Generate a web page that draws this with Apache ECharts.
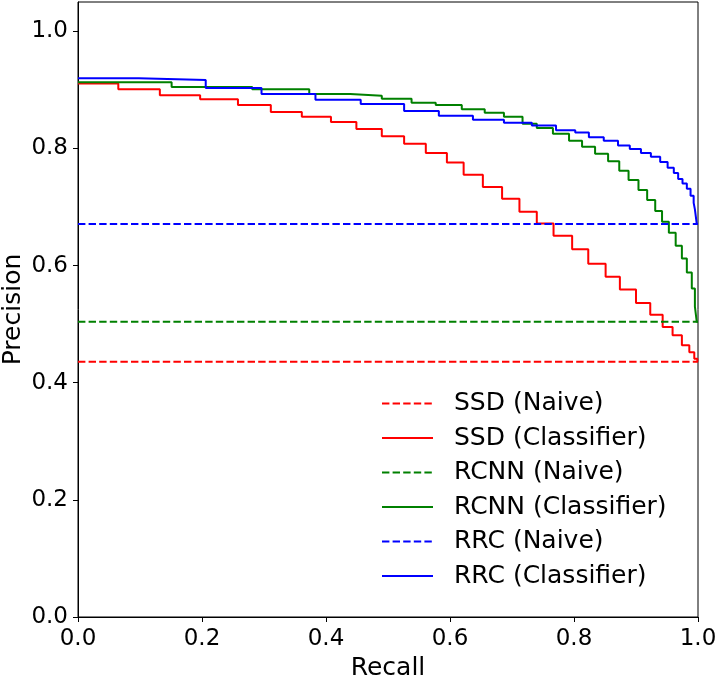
<!DOCTYPE html>
<html>
<head>
<meta charset="utf-8">
<script src="https://cdn.jsdelivr.net/npm/echarts@6/dist/echarts.min.js"></script>
<style>
  html, body { margin: 0; padding: 0; background: #fff; }
  #chart { width: 717px; height: 675px; }
</style>
</head>
<body>
<div id="chart"></div>
<script>
// step curves: recall where each step begins, precision held until the next one
const ssdRecall = [0, 0.065, 0.132, 0.197, 0.258, 0.311, 0.361, 0.408, 0.449, 0.490, 0.526, 0.561, 0.595, 0.622, 0.653, 0.684, 0.712, 0.740, 0.767, 0.797, 0.823, 0.851, 0.874, 0.900, 0.923, 0.943, 0.959, 0.974, 0.986, 0.994, 0.999, 1.0]
const ssdPrecision = [0.911, 0.901, 0.891, 0.884, 0.874, 0.862, 0.854, 0.845, 0.833, 0.821, 0.808, 0.792, 0.776, 0.755, 0.734, 0.714, 0.692, 0.672, 0.651, 0.628, 0.603, 0.581, 0.559, 0.536, 0.516, 0.495, 0.481, 0.464, 0.452, 0.441, 0.436, 0.436]

const rcnnRecall = [0, 0.151, 0.281, 0.373, 0.439, 0.490, 0.538, 0.577, 0.619, 0.656, 0.687, 0.717, 0.740, 0.766, 0.792, 0.813, 0.834, 0.855, 0.873, 0.888, 0.904, 0.918, 0.931, 0.942, 0.953, 0.964, 0.974, 0.982, 0.990, 0.995, 0.998, 1.0]
const rcnnPrecision = [0.913, 0.905, 0.901, 0.893, 0.890, 0.885, 0.878, 0.874, 0.867, 0.861, 0.854, 0.842, 0.835, 0.825, 0.813, 0.803, 0.791, 0.778, 0.762, 0.746, 0.729, 0.712, 0.693, 0.675, 0.656, 0.634, 0.612, 0.588, 0.561, 0.530, 0.504, 0.504]

const rrcRecall = [0, 0.098, 0.206, 0.296, 0.383, 0.456, 0.526, 0.582, 0.637, 0.687, 0.732, 0.771, 0.802, 0.824, 0.848, 0.871, 0.890, 0.908, 0.924, 0.939, 0.951, 0.961, 0.968, 0.975, 0.982, 0.988, 0.993, 0.995, 0.998, 1.0]
const rrcPrecision = [0.920, 0.917, 0.903, 0.893, 0.883, 0.876, 0.864, 0.856, 0.849, 0.844, 0.839, 0.831, 0.827, 0.819, 0.813, 0.805, 0.799, 0.792, 0.786, 0.777, 0.767, 0.758, 0.748, 0.740, 0.731, 0.719, 0.707, 0.696, 0.671, 0.671]

// naive baselines (constant precision)
const ssdNaive = 0.436
const rcnnNaive = 0.504
const rrcNaive = 0.671

const tickValues = [0, 0.2, 0.4, 0.6, 0.8, 1.0]

const zip = (xs, ys) => xs.map((x, i) => [x, ys[i]])
const flat = v => [[0, v], [1, v]]

const font = 'DejaVu Sans'
const dash = [7.4, 3.2]

function dashed(name, color, v) {
  return {
    name: name, type: 'line', data: flat(v), symbol: 'none', showSymbol: false,
    lineStyle: { color: color, width: 2, type: dash }, itemStyle: { color: color },
    animation: false
  }
}
function stepped(name, color, xs, ys) {
  return {
    name: name, type: 'line', step: 'end', data: zip(xs, ys), symbol: 'none', showSymbol: false,
    lineStyle: { color: color, width: 2 }, itemStyle: { color: color },
    animation: false
  }
}

const chart = echarts.init(document.getElementById('chart'))
chart.setOption({
  backgroundColor: '#fff',
  grid: {
    left: 78, right: 19, top: 2, bottom: 58,
    outerBoundsMode: 'none', containLabel: false,
    show: true, borderColor: '#000', borderWidth: 1, backgroundColor: 'transparent'
  },
  legend: {
    orient: 'vertical',
    left: 381, top: 391, padding: 0,
    itemWidth: 51, itemHeight: 14, itemGap: 9.5,
    itemStyle: { opacity: 0 },
    textStyle: { fontFamily: font, fontSize: 25, color: '#000', padding: [0, 0, 0, 16] },
    data: ['SSD (Naive)', 'SSD (Classifier)', 'RCNN (Naive)', 'RCNN (Classifier)', 'RRC (Naive)', 'RRC (Classifier)']
  },
  xAxis: {
    type: 'value', min: 0, max: 1, interval: 0.2,
    name: 'Recall', nameLocation: 'middle', nameGap: 39, nameMoveOverlap: false,
    nameTextStyle: { fontFamily: font, fontSize: 25, color: '#000' },
    axisLine: { show: true, lineStyle: { color: '#000', width: 1 } },
    axisTick: { show: true, length: 5, lineStyle: { color: '#000' } },
    axisLabel: { fontFamily: font, fontSize: 23, color: '#000', margin: 11, formatter: v => v.toFixed(1) },
    splitLine: { show: false }
  },
  yAxis: {
    type: 'value', min: 0, max: 1.05, interval: 0.2,
    name: 'Precision', nameLocation: 'middle', nameGap: 52, nameMoveOverlap: false,
    nameTextStyle: { fontFamily: font, fontSize: 25, color: '#000' },
    axisLine: { show: true, lineStyle: { color: '#000', width: 1 } },
    axisTick: { show: true, length: 5, lineStyle: { color: '#000' }, customValues: tickValues },
    axisLabel: { fontFamily: font, fontSize: 23, color: '#000', margin: 10, customValues: tickValues, formatter: v => v.toFixed(1) },
    splitLine: { show: false }
  },
  series: [
    dashed('SSD (Naive)', '#ff0000', ssdNaive),
    stepped('SSD (Classifier)', '#ff0000', ssdRecall, ssdPrecision),
    dashed('RCNN (Naive)', '#008000', rcnnNaive),
    stepped('RCNN (Classifier)', '#008000', rcnnRecall, rcnnPrecision),
    dashed('RRC (Naive)', '#0000ff', rrcNaive),
    stepped('RRC (Classifier)', '#0000ff', rrcRecall, rrcPrecision)
  ]
})
</script>
</body>
</html>
